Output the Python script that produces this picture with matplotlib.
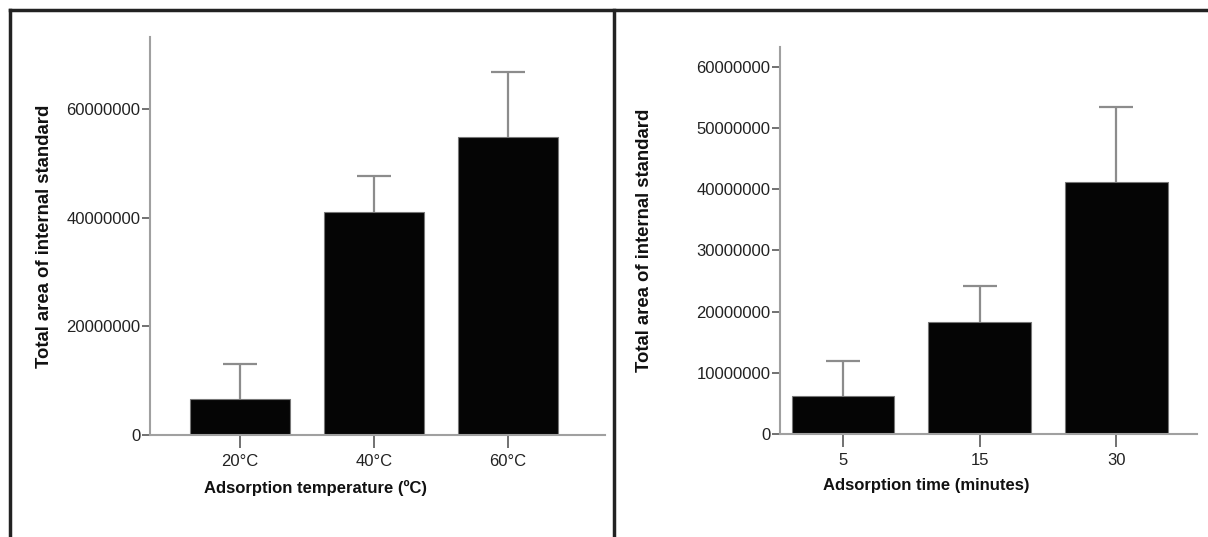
import numpy as np
import matplotlib
matplotlib.use("Agg")
import matplotlib.pyplot as plt
from matplotlib.lines import Line2D

plt.rcParams['font.family'] = ['Liberation Sans', 'DejaVu Sans']

# left panel: temperature
temp_labels = ["20°C", "40°C", "60°C"]
temp_means = [6.6e6, 41.0e6, 54.9e6]
temp_err = [6.5e6, 6.6e6, 11.8e6]
temp_ticks = [0, 20000000, 40000000, 60000000]

# right panel: time
time_labels = ["5", "15", "30"]
time_means = [6.2e6, 18.3e6, 41.2e6]
time_err = [5.8e6, 5.9e6, 12.2e6]
time_ticks = [0, 10000000, 20000000, 30000000, 40000000, 50000000, 60000000]

axis_grey = "#a0a0a0"
err_grey = "#8c8c8c"
bar_black = "#050505"

fig = plt.figure(figsize=(12.08, 5.37), dpi=100)

def draw_panel(ax, labels, means, errs, ticks, ymax, xlim, xlabel, xlab_pos, ylab_pos):
    ind = np.arange(len(labels))
    bars = ax.bar(ind, means, width=0.75, color=bar_black, edgecolor="#777777", linewidth=0.8,
                  yerr=[np.zeros(len(errs)), errs], capsize=12,
                  error_kw=dict(ecolor=err_grey, elinewidth=1.6, capthick=1.6), zorder=2)
    # only the upper cap is wanted
    caps = bars.errorbar.lines[1]
    caps[0].set_visible(False)
    ax.set_xlim(xlim)
    ax.set_ylim(0, ymax)
    ax.set_xticks(ind)
    ax.set_xticklabels(labels)
    ax.set_yticks(ticks)
    ax.set_yticklabels([str(t) for t in ticks])
    for s in ["top", "right"]:
        ax.spines[s].set_visible(False)
    for s in ["left", "bottom"]:
        ax.spines[s].set_color(axis_grey)
        ax.spines[s].set_linewidth(1.5)
    ax.tick_params(axis="y", length=6, width=1.3, color="#666666", labelsize=12, labelcolor="#222222", pad=1)
    ax.tick_params(axis="x", length=9, width=1.3, color="#666666", labelsize=12, labelcolor="#222222", pad=5)
    ax.set_xlabel(xlabel, fontsize=12, fontweight="bold", color="#111111")
    ax.set_ylabel("Total area of internal standard", fontsize=13.3, fontweight="bold", color="#111111")
    ax.xaxis.label.set_va("center")
    ax.yaxis.label.set_va("center")
    ax.xaxis.set_label_coords(*xlab_pos)
    ax.yaxis.set_label_coords(*ylab_pos)

ax1 = fig.add_axes([150/1208, 102/537, 455/1208, 398/537])
draw_panel(ax1, temp_labels, temp_means, temp_err, temp_ticks, 73.2e6,
           (-0.672, 2.724), "Adsorption temperature (ºC)", (0.363, -0.133), (-0.231, 0.5))

ax2 = fig.add_axes([780/1208, 103/537, 417/1208, 387/537])
draw_panel(ax2, time_labels, time_means, time_err, time_ticks, 63.2e6,
           (-0.46, 2.59), "Adsorption time (minutes)", (0.35, -0.132), (-0.324, 0.5))

# outer frame lines
fig.add_artist(Line2D([10/1208, 1], [1-10/537, 1-10/537], color="#222222", linewidth=2.5, transform=fig.transFigure))
fig.add_artist(Line2D([10/1208, 10/1208], [0, 1-10/537], color="#222222", linewidth=2.5, transform=fig.transFigure))
fig.add_artist(Line2D([614/1208, 614/1208], [0, 1-10/537], color="#222222", linewidth=2.5, transform=fig.transFigure))

plt.savefig("out.png", dpi=100)
plt.close()
